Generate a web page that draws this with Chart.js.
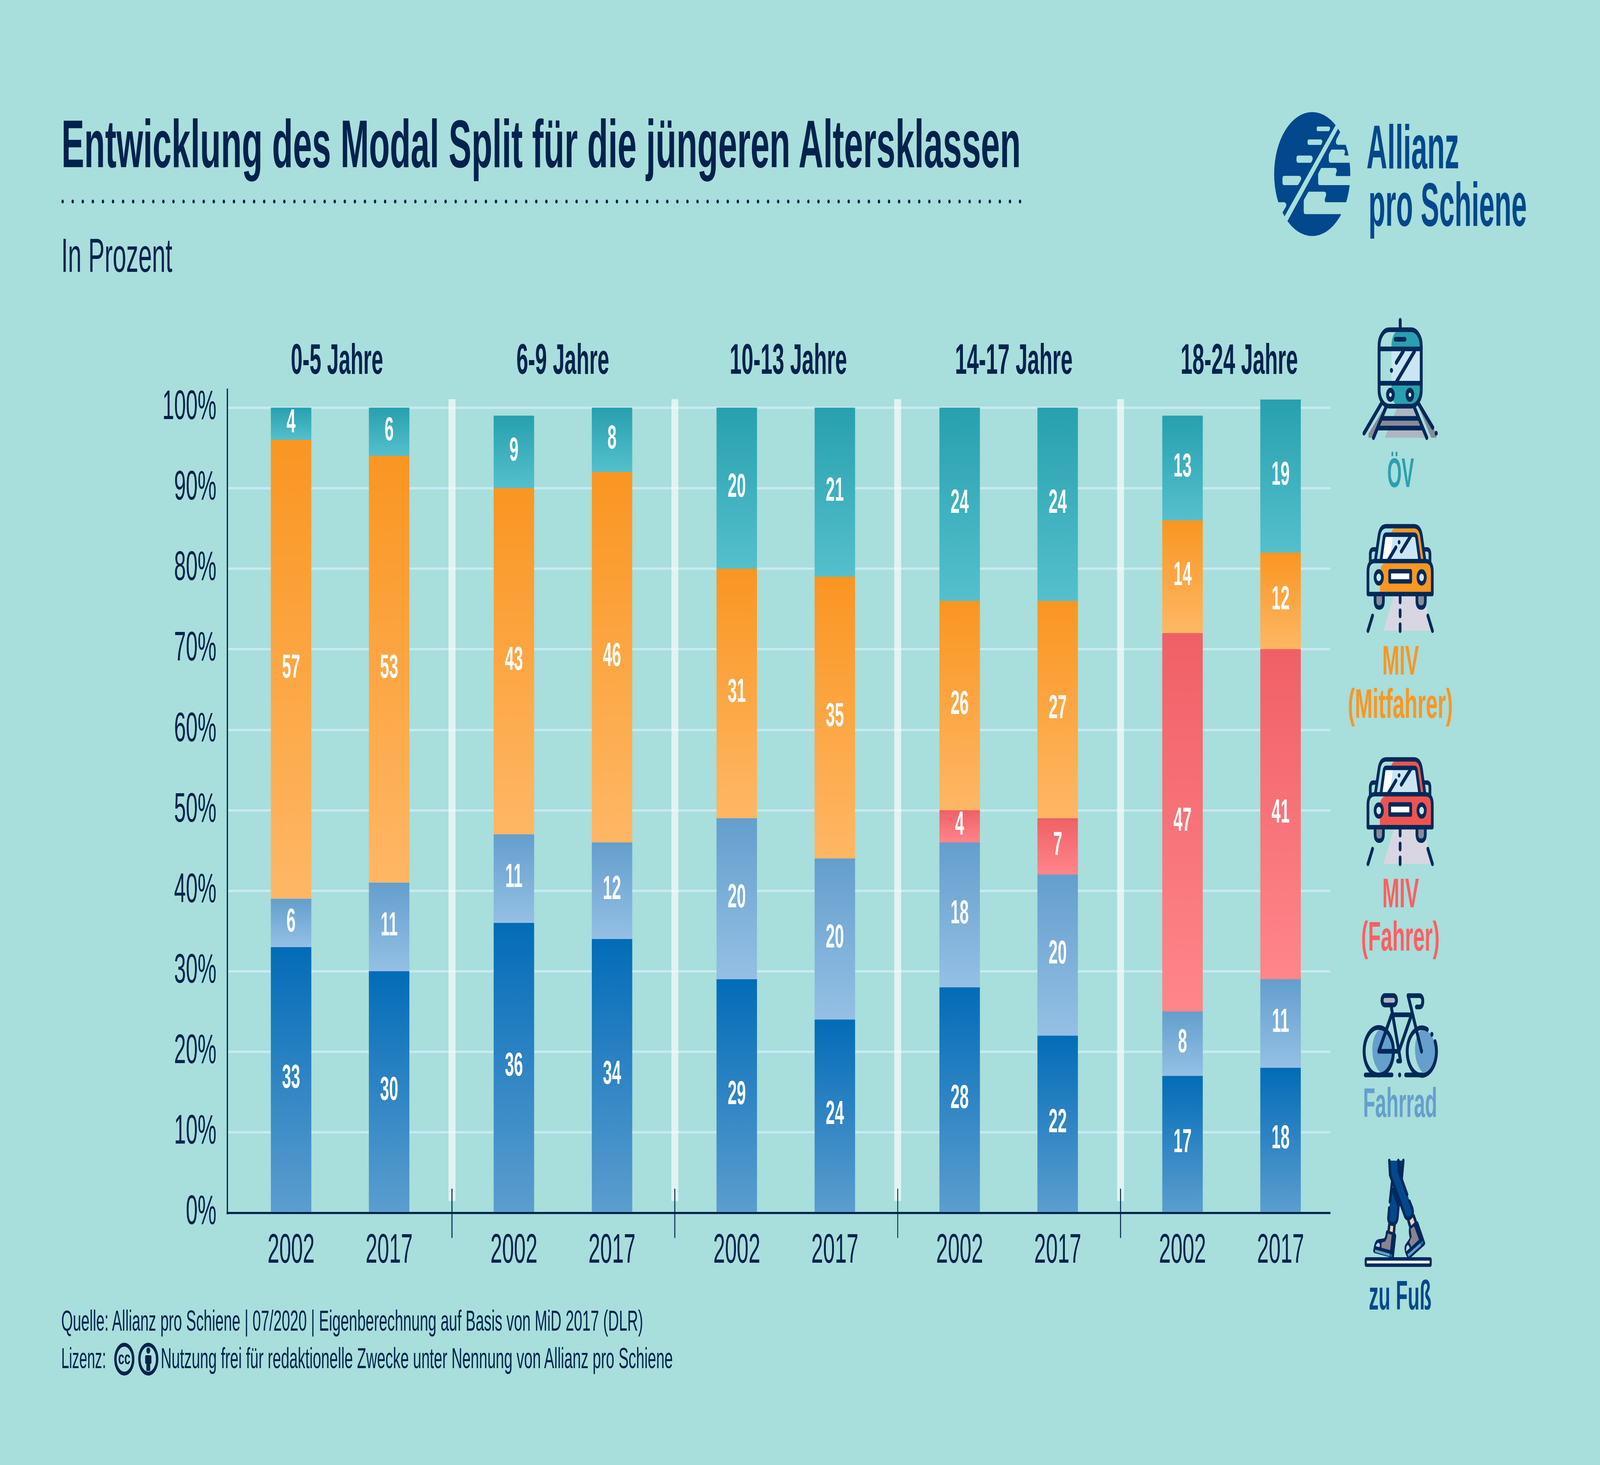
<!DOCTYPE html>
<html lang="de"><head><meta charset="utf-8"><title>Modal Split</title>
<style>
html,body{margin:0;padding:0;background:#a8dedb;width:100%;height:100%;overflow:hidden}
#page{position:absolute;left:0;top:0;width:6668px;height:3751px;transform-origin:0 0}
canvas,svg.layer{position:absolute;left:0;top:0}
svg.ic{position:absolute;overflow:visible}
text{font-family:"Liberation Sans",sans-serif}
</style>
<script src="https://cdn.jsdelivr.net/npm/chart.js@4/dist/chart.umd.min.js"></script>
</head><body>
<div id="page">
<canvas id="c" width="6668" height="3751" style="width:6668px;height:3751px"></canvas>

<svg class="layer" width="6668" height="3751" viewBox="0 0 6668 3751">
 <g fill="#00234d">
  <text x="256" y="428" font-size="173" font-weight="700" textLength="3998" lengthAdjust="spacingAndGlyphs">Entwicklung des Modal Split für die jüngeren Altersklassen</text>
  <text x="255" y="696" font-size="122" textLength="463" lengthAdjust="spacingAndGlyphs">In Prozent</text>
  <text x="1212" y="957" font-size="110" font-weight="700" textLength="385" lengthAdjust="spacingAndGlyphs">0-5 Jahre</text>
  <text x="2152" y="957" font-size="110" font-weight="700" textLength="387" lengthAdjust="spacingAndGlyphs">6-9 Jahre</text>
  <text x="3041" y="957" font-size="110" font-weight="700" textLength="489" lengthAdjust="spacingAndGlyphs">10-13 Jahre</text>
  <text x="3980" y="957" font-size="110" font-weight="700" textLength="490" lengthAdjust="spacingAndGlyphs">14-17 Jahre</text>
  <text x="4920" y="957" font-size="110" font-weight="700" textLength="489" lengthAdjust="spacingAndGlyphs">18-24 Jahre</text>
  <text x="255" y="3407" font-size="74" textLength="2425" lengthAdjust="spacingAndGlyphs">Quelle: Allianz pro Schiene | 07/2020 | Eigenberechnung auf Basis von MiD 2017 (DLR)</text>
  <text x="255" y="3503" font-size="74" textLength="187" lengthAdjust="spacingAndGlyphs">Lizenz:</text>
  <text x="670" y="3503" font-size="74" textLength="2134" lengthAdjust="spacingAndGlyphs">Nutzung frei für redaktionelle Zwecke unter Nennung von Allianz pro Schiene</text>
 </g>
 <line x1="261" y1="516" x2="4276" y2="516" stroke="#00234d" stroke-width="10" stroke-linecap="round" stroke-dasharray="0 42"/>
 <g fill="none" stroke="#00234d" stroke-width="10">
  <circle cx="518" cy="3480" r="37"/><circle cx="618" cy="3480" r="37"/>
 </g>
 <text x="518" y="3493" font-size="46" font-weight="700" text-anchor="middle" fill="#00234d">cc</text>
 <g fill="#00234d"><circle cx="618" cy="3458" r="8"/><rect x="605" y="3470" width="26" height="22" rx="4"/><rect x="610" y="3488" width="16" height="22"/></g>

 <g font-weight="700" text-anchor="middle">
  <text x="5837" y="1247" font-size="106" fill="#28a0af" textLength="111" lengthAdjust="spacingAndGlyphs">ÖV</text>
  <text x="5837" y="1727" font-size="106" fill="#fa9622" textLength="153" lengthAdjust="spacingAndGlyphs">MIV</text>
  <text x="5836" y="1838" font-size="106" fill="#fa9622" textLength="438" lengthAdjust="spacingAndGlyphs">(Mitfahrer)</text>
  <text x="5837" y="2323" font-size="106" fill="#ff5f62" textLength="153" lengthAdjust="spacingAndGlyphs">MIV</text>
  <text x="5836" y="2434" font-size="106" fill="#ff5f62" textLength="327" lengthAdjust="spacingAndGlyphs">(Fahrer)</text>
  <text x="5835" y="2860" font-size="106" fill="#659fcc" textLength="309" lengthAdjust="spacingAndGlyphs">Fahrrad</text>
  <text x="5835" y="3353" font-size="106" fill="#03488c" textLength="261" lengthAdjust="spacingAndGlyphs">zu Fuß</text>
 </g>
 <g font-weight="700" fill="#03488c">
  <text x="5695" y="431" font-size="158" textLength="386" lengthAdjust="spacingAndGlyphs">Allianz</text>
  <text x="5703" y="578" font-size="158" textLength="660" lengthAdjust="spacingAndGlyphs">pro Schiene</text>
 </g>
</svg>

<!-- Logo -->
<svg class="ic" style="left:5290px;top:270px" width="360" height="360" viewBox="0 0 1080 1080">
 <circle cx="536" cy="527" r="476" fill="#03488c"/>
 <g fill="#a8dedb">
  <polygon points="892,82 922,108 164,958 126,922"/>
  <path d="M858 178 L886 205 L840 258 Q818 295 855 302 H1080 V60 H900 Z"/>
  <path d="M40 743 H190 Q225 755 205 780 L165 822 L190 852 L228 888 L190 1000 H40 Z"/>
  <path d="M607 162 H745 Q770 168 755 185 L745 197 H607 Q592 197 592 182 V177 Q592 162 607 162 Z"/>
  <path d="M495 261 H645 Q675 270 655 292 L645 303 H495 Q478 303 478 286 V278 Q478 261 495 261 Z"/>
  <path d="M360 385 H520 Q555 395 535 425 L520 440 H360 Q339 440 339 418 V407 Q339 385 360 385 Z"/>
  <path d="M185 541 H375 Q410 550 392 575 L365 605 Q358 612 350 612 H185 Q164 612 164 590 V563 Q164 541 185 541 Z"/>
  <path d="M779 339 H930 Q955 345 943 365 Q930 385 950 385 H1080 V440 H765 Q743 440 743 418 V385 Q743 375 750 368 L770 345 Q775 339 779 339 Z"/>
  <path d="M655 480 H825 Q852 488 838 515 Q820 540 840 542 H1080 V612 H632 Q610 612 610 590 V530 Q610 522 618 515 L642 487 Q648 480 655 480 Z"/>
  <path d="M495 662 H690 Q720 670 706 697 Q680 735 705 743 H1080 V835 H452 Q430 835 430 812 V735 Q430 725 438 718 L482 670 Q488 662 495 662 Z"/>
 </g>
</svg>

<!-- Train -->
<svg class="ic" style="left:5660px;top:800px" width="360" height="360" viewBox="0 0 1080 1080" fill="none" stroke="#002a5a" stroke-width="36" stroke-linecap="round" stroke-linejoin="round">
 <g stroke="none">
  <path fill="#28a0af" d="M417 262 C417 190 450 150 510 135 H660 Q785 135 785 262 Z"/>
  <rect fill="#cae6f5" x="417" y="290" width="360" height="240"/>
  <path fill="#28a0af" d="M417 562 V640 Q430 690 490 715 H660 Q785 700 785 562 Z"/>
  <polygon fill="#afb5c3" points="485,735 683,735 722,796 445,796"/>
  <polygon fill="#afb5c3" points="370,906 800,906 838,962 332,962"/>
  <polygon fill="#8a8a98" points="300,832 750,832 775,870 278,870"/>
  <polygon fill="#8a8a98" points="130,930 325,735 190,962 130,962"/>
  <polygon fill="#8a8a98" points="765,735 977,925 977,962 912,962"/>
 </g>
 <line x1="526" y1="60" x2="526" y2="130"/>
 <rect x="262" y="133" width="527" height="587" rx="125"/>
 <line x1="262" y1="280" x2="789" y2="280"/><line x1="262" y1="544" x2="789" y2="544"/>
 <line x1="465" y1="206" x2="585" y2="206"/>
 <line x1="478" y1="385" x2="565" y2="298"/><line x1="482" y1="530" x2="705" y2="298"/>
 <line x1="285" y1="705" x2="74" y2="928"/><line x1="760" y1="705" x2="933" y2="885"/>
 <line x1="350" y1="725" x2="192" y2="962"/><line x1="700" y1="725" x2="858" y2="962"/>
 <line x1="310" y1="814" x2="745" y2="814"/><line x1="250" y1="888" x2="800" y2="888"/>
 <g stroke="none"><circle cx="417" cy="445" r="19" fill="#002a5a"/><circle cx="976" cy="928" r="19" fill="#002a5a"/>
  <circle cx="404" cy="632" r="54" fill="#002a5a"/><circle cx="404" cy="632" r="16" fill="#fff"/>
  <circle cx="647" cy="632" r="54" fill="#002a5a"/><circle cx="647" cy="632" r="16" fill="#fff"/></g>
</svg>

<!-- Car Mitfahrer -->
<svg class="ic" style="left:5660px;top:1320px" width="360" height="320" viewBox="0 0 1080 960" fill="none" stroke="#002a5a" stroke-width="34" stroke-linecap="round" stroke-linejoin="round">
 <g stroke="none">
  <polygon fill="#d8d6e3" points="445,620 830,620 915,885 315,885"/>
  <path fill="#fa9622" d="M272 590 V430 Q285 365 350 365 H850 Q912 375 912 430 V590 Z"/>
  <path fill="#fa9622" d="M415 130 Q430 97 470 97 H710 Q760 100 775 150 L820 335 H770 L730 150 Q720 130 700 130 Z"/>
  <polygon fill="#cae6f5" points="342,150 712,150 760,335 295,335"/>
  <polygon fill="#fff" points="342,160 432,160 400,335 295,335"/>
  <path fill="#8a8a98" d="M212 610 V655 Q212 707 264 707 Q316 707 316 655 V610 Z"/>
  <path fill="#8a8a98" d="M735 610 V655 Q735 707 787 707 Q840 707 840 655 V610 Z"/>
 </g>
 <path d="M215 345 L262 150 Q280 82 350 82 H700 Q770 82 790 150 L835 345"/>
 <path d="M285 345 L325 165 Q332 147 350 147 H700 Q722 147 730 165 L770 345"/>
 <path d="M220 260 H190 Q152 260 152 300 V350"/><path d="M830 260 H860 Q898 260 898 300 V350"/>
 <path d="M123 603 V430 Q123 350 210 350 H840 Q927 350 927 430 V603 Z"/>
 <circle cx="258" cy="475" r="46" fill="#cae6f5"/><circle cx="794" cy="475" r="46" fill="#cae6f5"/>
 <rect x="395" y="428" width="262" height="78" fill="#fff"/>
 <line x1="375" y1="345" x2="472" y2="245"/><line x1="540" y1="275" x2="665" y2="150"/>
 <circle cx="512" cy="205" r="17" fill="#002a5a" stroke="none"/>
 <path d="M212 620 V655 Q212 707 264 707 Q316 707 316 655 V620"/><path d="M735 620 V655 Q735 707 787 707 Q840 707 840 655 V620"/>
 <line x1="525" y1="620" x2="525" y2="665"/><line x1="525" y1="730" x2="525" y2="772"/><line x1="525" y1="837" x2="525" y2="885"/>
 <line x1="180" y1="770" x2="123" y2="885"/><line x1="872" y1="770" x2="929" y2="885"/>
</svg>

<!-- Car Fahrer -->
<svg class="ic" style="left:5660px;top:1917px" width="360" height="320" viewBox="0 0 1080 960" fill="none" stroke="#002a5a" stroke-width="34" stroke-linecap="round" stroke-linejoin="round">
 <g stroke="none">
  <polygon fill="#d8d6e3" points="445,620 830,620 915,885 315,885"/>
  <path fill="#ef5350" d="M272 590 V430 Q285 365 350 365 H850 Q912 375 912 430 V590 Z"/>
  <path fill="#ef5350" d="M415 130 Q430 97 470 97 H710 Q760 100 775 150 L820 335 H770 L730 150 Q720 130 700 130 Z"/>
  <polygon fill="#cae6f5" points="342,150 712,150 760,335 295,335"/>
  <polygon fill="#fff" points="342,160 432,160 400,335 295,335"/>
  <path fill="#8a8a98" d="M212 610 V655 Q212 707 264 707 Q316 707 316 655 V610 Z"/>
  <path fill="#8a8a98" d="M735 610 V655 Q735 707 787 707 Q840 707 840 655 V610 Z"/>
 </g>
 <path d="M215 345 L262 150 Q280 82 350 82 H700 Q770 82 790 150 L835 345"/>
 <path d="M285 345 L325 165 Q332 147 350 147 H700 Q722 147 730 165 L770 345"/>
 <path d="M220 260 H190 Q152 260 152 300 V350"/><path d="M830 260 H860 Q898 260 898 300 V350"/>
 <path d="M123 603 V430 Q123 350 210 350 H840 Q927 350 927 430 V603 Z"/>
 <circle cx="258" cy="475" r="46" fill="#cae6f5"/><circle cx="794" cy="475" r="46" fill="#cae6f5"/>
 <rect x="395" y="428" width="262" height="78" fill="#fff"/>
 <line x1="375" y1="345" x2="472" y2="245"/><line x1="540" y1="275" x2="665" y2="150"/>
 <circle cx="512" cy="205" r="17" fill="#002a5a" stroke="none"/>
 <path d="M212 620 V655 Q212 707 264 707 Q316 707 316 655 V620"/><path d="M735 620 V655 Q735 707 787 707 Q840 707 840 655 V620"/>
 <line x1="525" y1="620" x2="525" y2="665"/><line x1="525" y1="730" x2="525" y2="772"/><line x1="525" y1="837" x2="525" y2="885"/>
 <line x1="180" y1="770" x2="123" y2="885"/><line x1="872" y1="770" x2="929" y2="885"/>
</svg>

<!-- Bike -->
<svg class="ic" style="left:5660px;top:2520px" width="360" height="260" viewBox="0 0 1080 780" fill="none" stroke="#002a5a" stroke-width="36" stroke-linecap="round" stroke-linejoin="round">
 <g stroke="none" fill="#659fcc">
  <path d="M280 345 C200 370 175 450 178 510 C180 590 230 650 280 680 C370 670 440 590 440 515 C440 440 370 350 280 345 Z"/>
  <path d="M810 345 C730 370 708 450 712 510 C715 590 760 650 810 680 C900 670 975 590 975 515 C975 440 900 350 810 345 Z"/>
 </g>
 <circle cx="258" cy="515" r="183"/>
 <path d="M865 348 A183 183 0 1 0 962 440"/>
 <line x1="90" y1="697" x2="423" y2="697"/><line x1="595" y1="697" x2="800" y2="697"/>
 <rect x="299" y="87" width="180" height="73" rx="36" fill="#afb5c3"/>
 <path d="M412 165 L510 515 L530 590 H495"/>
 <path d="M418 235 H668 L510 515 H258 L418 235"/>
 <path d="M625 88 L793 515"/>
 <path d="M625 88 H765 Q808 88 808 130 Q808 175 765 175 H730"/>
 <g stroke="none" fill="#002a5a"><circle cx="922" cy="385" r="19"/><circle cx="519" cy="697" r="19"/></g>
</svg>

<!-- Walking legs -->
<svg class="ic" style="left:5660px;top:2950px" width="360" height="320" viewBox="0 0 1080 960" fill="none" stroke="#002a5a" stroke-width="30" stroke-linecap="round" stroke-linejoin="round">
 <g stroke="none">
  <path fill="#03488c" d="M415 225 L385 500 Q385 545 445 545 Q485 540 495 500 L520 400 L430 280 Z"/>
  <path fill="#03488c" d="M390 65 H565 L550 210 L625 340 L680 450 Q675 490 620 515 Q590 515 570 480 L395 175 Z"/>
  <polygon fill="#002a5a" points="505,65 535,65 545,205 505,145"/>
  <polygon fill="#ffcdb5" points="402,562 440,566 433,608 396,603"/>
  <polygon fill="#ffcdb5" points="643,520 680,505 695,545 660,560"/>
  <path fill="#002a5a" d="M360 600 L460 620 Q478 630 475 650 L445 815 L205 775 Q185 770 190 750 L200 720 Q215 670 260 668 L320 662 Q340 660 345 625 Q350 600 360 600 Z"/>
  <polygon fill="#8c8190" points="372,625 420,635 400,752 292,735 292,695 340,685 360,660"/>
  <path fill="#bcd7f7" d="M220 722 Q245 680 270 705 V730 Z"/>
  <polygon fill="#659fcc" points="213,748 395,780 392,800 210,768"/>
  <polygon fill="#036cb8" points="395,780 427,788 423,806 392,800"/>
  <path fill="#002a5a" d="M640 578 L720 530 Q745 525 755 545 L838 695 Q840 708 825 718 L640 820 Q615 815 600 790 Q565 740 590 710 L645 660 Q625 600 640 578 Z"/>
  <polygon fill="#8c8190" points="655,590 700,570 760,672 665,728 640,690 670,650"/>
  <path fill="#bcd7f7" d="M600 763 Q600 710 625 715 Q640 720 645 738 Z"/>
  <polygon fill="#659fcc" points="618,785 775,700 787,718 630,805"/>
  <polygon fill="#036cb8" points="775,700 805,682 815,698 787,718"/>
 </g>
 <path d="M390 65 L400 175 L590 495 Q615 520 650 505 L675 488 Q690 460 675 430 L642 378"/>
 <path d="M503 65 L507 145 L612 325"/><line x1="565" y1="65" x2="545" y2="205"/>
 <line x1="425" y1="225" x2="398" y2="380"/>
 <path d="M388 430 L378 505 Q378 552 435 552 Q480 548 490 510 L505 410"/>
 <line x1="440" y1="290" x2="505" y2="405" stroke-width="40"/>
 <line x1="390" y1="555" x2="382" y2="600"/><line x1="455" y1="560" x2="448" y2="615"/>
 <line x1="630" y1="530" x2="650" y2="570"/><line x1="695" y1="490" x2="715" y2="525"/>
 <rect x="95" y="820" width="812" height="48" rx="6" fill="#ececec" stroke-width="26"/>
</svg>
</div>

<script>
// The design is laid out at 6668x3751; fit it to whatever window we actually get.
document.getElementById("page").style.transform =
  "scale(" + (window.innerWidth / 6668) + "," + (window.innerHeight / 3751) + ")";

// Age groups and survey years
const groups = ["0-5 Jahre", "6-9 Jahre", "10-13 Jahre", "14-17 Jahre", "18-24 Jahre"];
const years = ["2002", "2017"];
const yTicks = [0, 10, 20, 30, 40, 50, 60, 70, 80, 90, 100];

// Series values, one per bar: each group's 2002 then 2017
const zuFuss      = [33, 30, 36, 34, 29, 24, 28, 22, 17, 18];
const fahrrad     = [ 6, 11, 11, 12, 20, 20, 18, 20,  8, 11];
const mivFahrer   = [ 0,  0,  0,  0,  0,  0,  4,  7, 47, 41];
const mivMitfahrer= [57, 53, 43, 46, 31, 35, 26, 27, 14, 12];
const oev         = [ 4,  6,  9,  8, 20, 21, 24, 24, 13, 19];

const navy = "#00234d";
const fontFamily = '"Liberation Sans",sans-serif';

// Bar slots in group units: one unit per age group, years a fixed fraction apart
const yearGap = 0.44;
const sepOffset = 0.722;
const slots = groups.flatMap((_, g) => years.map((_, i) => g + i * yearGap));

const stackOrder = [
  {label: "zu Fuß", values: zuFuss, top: "#036cb8", bottom: "#5c9ecf"},
  {label: "Fahrrad", values: fahrrad, top: "#649fcd", bottom: "#95c0e5"},
  {label: "MIV (Fahrer)", values: mivFahrer, top: "#f06066", bottom: "#ff868b"},
  {label: "MIV (Mitfahrer)", values: mivMitfahrer, top: "#fa9622", bottom: "#ffb765"},
  {label: "ÖV", values: oev, top: "#28a0ae", bottom: "#55c0cd"}
];

function gradientFill(dsIndex) {
  return (c) => {
    const y = c.chart.scales.y;
    if (c.type !== "data" || !y) return stackOrder[dsIndex].top;
    const base = stackOrder.slice(0, dsIndex).reduce((s, d) => s + d.values[c.dataIndex], 0);
    const v = stackOrder[dsIndex].values[c.dataIndex];
    const y0 = y.getPixelForValue(base + v), y1 = y.getPixelForValue(base);
    if (!Number.isFinite(y0) || !Number.isFinite(y1)) return stackOrder[dsIndex].top;
    const g = c.chart.ctx.createLinearGradient(0, y0, 0, y1);
    g.addColorStop(0, stackOrder[dsIndex].top);
    g.addColorStop(1, stackOrder[dsIndex].bottom);
    return g;
  };
}

// No condensed face is installed, so canvas text is narrowed with fillText's maxWidth.
const canvasEl = document.getElementById("c");
const ctx2d = canvasEl.getContext("2d");
const plainFillText = ctx2d.fillText;
const tickCondense = 0.84, valueCondense = 0.8;
ctx2d.fillText = function (t, x, y, maxW) {
  const w = this.measureText(t).width;
  plainFillText.call(this, t, x, y, maxW === undefined ? w * tickCondense : maxW);
};

const decorations = {
  id: "decorations",
  beforeDatasetsDraw(chart) {
    const {ctx, scales: {x, y}} = chart;
    ctx.save();
    ctx.fillStyle = "rgba(255,255,255,0.64)";
    for (let g = 0; g < groups.length - 1; g++) {
      const px = x.getPixelForValue(g + sepOffset);
      ctx.fillRect(px - 14.5, y.getPixelForValue(102.28) + 25, 29, 2053);
    }
    ctx.restore();
  },
  afterDatasetsDraw(chart) {
    const {ctx, scales: {x, y}} = chart;
    ctx.save();
    // separators below the axis
    ctx.strokeStyle = navy; ctx.lineWidth = 4;
    for (let g = 0; g < groups.length - 1; g++) {
      const px = x.getPixelForValue(g + sepOffset);
      ctx.beginPath();
      ctx.moveTo(px, y.getPixelForValue(0) - 62);
      ctx.lineTo(px, y.getPixelForValue(0) + 64);
      ctx.stroke();
    }
    // value labels
    ctx.fillStyle = "#fff";
    ctx.font = "700 85px " + fontFamily;
    ctx.textAlign = "center";
    ctx.textBaseline = "middle";
    chart.data.datasets.forEach((ds, di) => {
      const meta = chart.getDatasetMeta(di);
      meta.data.forEach((bar, i) => {
        const v = stackOrder[di].values[i];
        if (!v) return;
        const p = bar.getCenterPoint();
        const s = String(v);
        ctx.fillText(s, p.x, p.y - 2, ctx.measureText(s).width * valueCondense);
      });
    });
    ctx.restore();
  }
};

new Chart(canvasEl, {
  type: "bar",
  data: {
    datasets: stackOrder.map((s, di) => ({
      label: s.label,
      data: s.values.map((v, i) => ({x: slots[i], y: v})),
      backgroundColor: gradientFill(di),
      borderWidth: 0,
      barThickness: 168
    }))
  },
  plugins: [decorations],
  options: {
    responsive: false,
    animation: false,
    devicePixelRatio: 1,
    layout: {padding: {left: 0, right: 1124, top: 997, bottom: 0}},
    plugins: {legend: {display: false}, title: {display: false}, tooltip: {enabled: false}},
    scales: {
      x: {
        type: "linear", stacked: true, offset: false,
        min: -0.2864, max: 4.6632,
        afterFit: s => { s.height = 645.5; },
        afterBuildTicks: s => { s.ticks = slots.map(v => ({value: v})); },
        grid: {display: false, drawTicks: false, offset: false},
        border: {color: navy, width: 5.5},
        ticks: {
          autoSkip: false, maxRotation: 0, minRotation: 0, padding: 36,
          color: navy, font: {family: fontFamily, size: 105},
          callback: (v, i) => years[i % years.length]
        }
      },
      y: {
        stacked: true,
        min: 0, max: 102.28,
        afterFit: s => { s.width = 947; },
        afterBuildTicks: s => { s.ticks = yTicks.map(v => ({value: v})); },
        grid: {color: "#c8e9f6", lineWidth: 6, drawTicks: false},
        border: {color: navy, width: 5},
        ticks: {
          padding: 45, color: navy, font: {family: fontFamily, size: 105},
          callback: v => v + "%"
        }
      }
    }
  }
});
</script>
</body></html>
